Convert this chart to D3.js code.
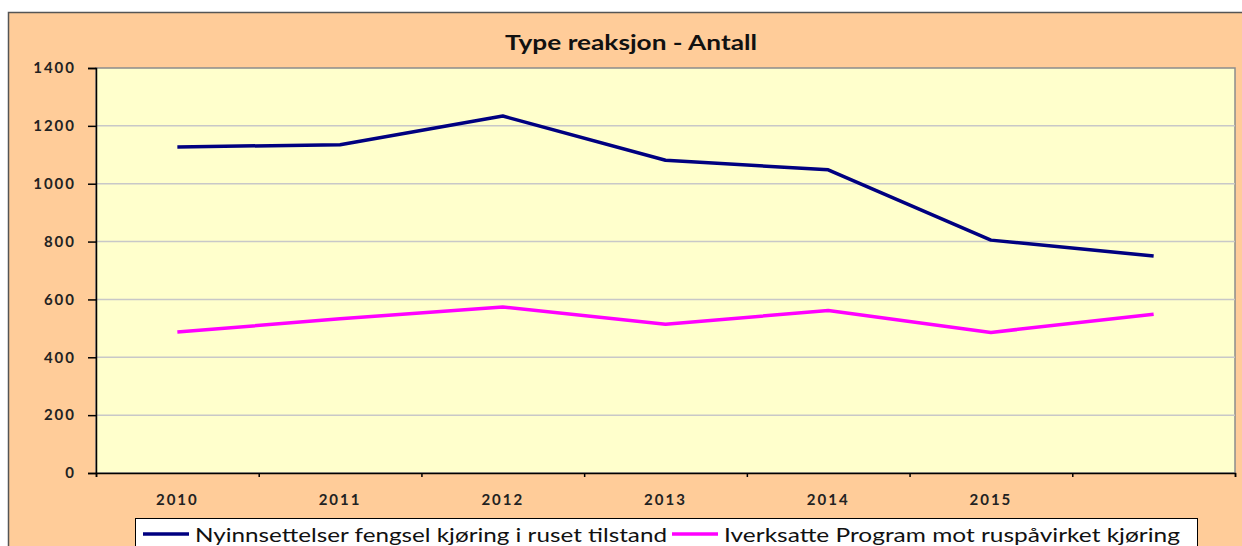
<!DOCTYPE html>
<html>
<head>
<meta charset="utf-8">
<script src="https://cdn.jsdelivr.net/npm/d3@7"></script>
<style>
    body { margin: 0; background: #fff; }
    svg { display: block; }
</style>
</head>
<body>
<div id="chart"></div>
<script>
// Data
const years = ['2010', '2011', '2012', '2013', '2014', '2015', ''];
const fengsel = [1127, 1135, 1234, 1081, 1048, 805, 750];
const program = [487, 533, 574, 514, 562, 486, 549];
const yTicks = [0, 200, 400, 600, 800, 1000, 1200, 1400];
const seriesNames = [
    'Nyinnsettelser fengsel kjøring i ruset tilstand',
    'Iverksatte Program mot ruspåvirket kjøring'
];

const W = 1242, H = 546;
const plot = { left: 96, right: 1235, top: 68, bottom: 473 };
const font = 'Lato, "Open Sans", sans-serif';

const svg = d3.select('#chart')
    .append('svg')
    .attr('width', W)
    .attr('height', H);

// Chart area
svg.append('rect')
    .attr('x', 8.5).attr('y', 12.5)
    .attr('width', W + 10).attr('height', H)
    .attr('fill', '#FFCC99')
    .attr('stroke', '#555')
    .attr('stroke-width', 1.5);

// Plot area
svg.append('rect')
    .attr('x', plot.left).attr('y', plot.top)
    .attr('width', plot.right - plot.left)
    .attr('height', plot.bottom - plot.top)
    .attr('fill', '#FFFFCC')
    .attr('stroke', '#8c8c8c')
    .attr('stroke-width', 1.5);

// Scales
const x = d3.scaleBand()
    .domain(years.map((d, i) => i))
    .range([plot.left, plot.right])
    .padding(0);

const xEdge = d3.scaleLinear()
    .domain([0, years.length])
    .range([plot.left, plot.right]);

const y = d3.scaleLinear()
    .domain([0, 1400])
    .range([plot.bottom, plot.top]);

// Gridlines
svg.append('g')
    .selectAll('line')
    .data(yTicks.filter(d => d > 0 && d < 1400))
    .join('line')
    .attr('x1', plot.left).attr('x2', plot.right)
    .attr('y1', d => y(d)).attr('y2', d => y(d))
    .attr('stroke', '#c8c8c8')
    .attr('stroke-width', 1.5);

// Y axis
const yAxis = svg.append('g')
    .attr('transform', `translate(${plot.left},0)`)
    .call(d3.axisLeft(y).tickValues(yTicks).tickFormat(d3.format('d')).tickSize(8).tickPadding(12));

// X axis: tick marks at band edges, labels at band centres
const xAxis = svg.append('g')
    .attr('transform', `translate(0,${plot.bottom})`)
    .call(d3.axisBottom(xEdge).tickValues(d3.range(years.length + 1)).tickSize(4).tickFormat(''));

svg.append('g')
    .selectAll('text')
    .data(years)
    .join('text')
    .attr('x', (d, i) => x(i) + x.bandwidth() / 2)
    .attr('y', 505)
    .attr('text-anchor', 'middle')
    .style('font-family', font)
    .style('font-size', '15px')
    .style('font-weight', 'bold')
    .style('letter-spacing', '2px')
    .style('fill', '#222')
    .text(d => d);

[yAxis, xAxis].forEach(g => {
    g.select('.domain').attr('stroke', '#000').attr('stroke-width', 1.5);
    g.selectAll('.tick line').attr('stroke', '#000').attr('stroke-width', 1.5);
});
yAxis.selectAll('.tick text')
    .style('font-family', font)
    .style('font-size', '15px')
    .style('font-weight', 'bold')
    .style('letter-spacing', '2px')
    .style('fill', '#222');

// Lines
const line = d3.line()
    .x((d, i) => x(i) + x.bandwidth() / 2)
    .y(d => y(d));

const series = [
    { values: fengsel, color: '#000080' },
    { values: program, color: '#FF00FF' }
];

svg.append('g')
    .selectAll('path')
    .data(series)
    .join('path')
    .attr('d', d => line(d.values))
    .attr('fill', 'none')
    .attr('stroke', d => d.color)
    .attr('stroke-width', 3.5)
    .attr('stroke-linejoin', 'round');

// Title
svg.append('text')
    .attr('x', 505)
    .attr('y', 50)
    .attr('textLength', 252)
    .attr('lengthAdjust', 'spacingAndGlyphs')
    .style('font-family', font)
    .style('font-size', '21px')
    .style('font-weight', 'bold')
    .style('fill', '#111')
    .text('Type reaksjon - Antall');

// Legend
const legend = svg.append('g');
legend.append('rect')
    .attr('x', 135.5).attr('y', 518.5)
    .attr('width', 1062).attr('height', 40)
    .attr('fill', '#fff')
    .attr('stroke', '#000')
    .attr('stroke-width', 1);

const legendItems = [
    { name: seriesNames[0], color: '#000080', x: 143, w: 472 },
    { name: seriesNames[1], color: '#FF00FF', x: 672, w: 456 }
];

legendItems.forEach(d => {
    legend.append('line')
        .attr('x1', d.x).attr('x2', d.x + 46)
        .attr('y1', 534).attr('y2', 534)
        .attr('stroke', d.color)
        .attr('stroke-width', 3.5);
    legend.append('text')
        .attr('x', d.x + 52)
        .attr('y', 541.5)
        .attr('textLength', d.w)
        .attr('lengthAdjust', 'spacingAndGlyphs')
        .style('font-family', font)
        .style('font-size', '20px')
        .style('fill', '#111')
        .text(d.name);
});
</script>
</body>
</html>
